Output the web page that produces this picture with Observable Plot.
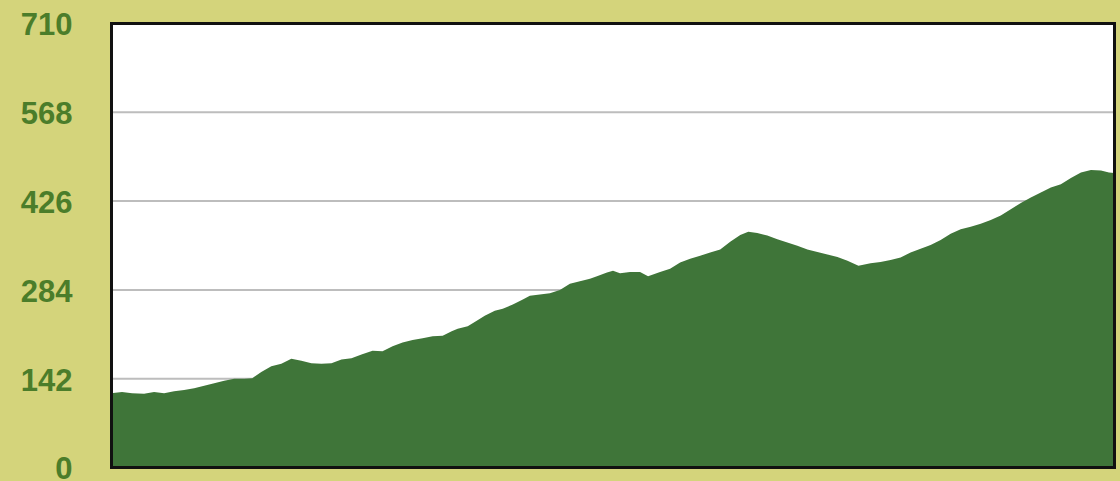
<!DOCTYPE html>
<html>
<head>
<meta charset="utf-8">
<script src="https://cdn.jsdelivr.net/npm/d3@7"></script>
<script src="https://cdn.jsdelivr.net/npm/@observablehq/plot@0.6"></script>
<style>
  html, body { margin: 0; padding: 0; background: #d4d47b; overflow: hidden; }
  #chart svg { display: block; }
</style>
</head>
<body>
<div id="chart"></div>
<script>
const distance = [0, 1.1, 2.1, 3.3, 4.3, 5.3, 6.3, 7.3, 8.3, 9.3, 10.3, 11.3, 12.3, 13.3, 14.1, 15.0, 16.0, 17.0, 18.0, 19.0, 20.0, 21.0, 22.0, 23.0, 24.0, 25.0, 26.1, 27.1, 28.1, 29.1, 30.1, 31.1, 32.1, 33.1, 34.0, 34.6, 35.6, 36.5, 37.3, 38.3, 39.1, 40.1, 41.1, 41.8, 42.8, 43.8, 44.8, 45.8, 46.8, 47.8, 48.5, 49.5, 50.1, 50.8, 51.8, 52.8, 53.6, 54.8, 55.8, 56.8, 57.8, 58.8, 59.8, 60.8, 61.8, 62.8, 63.6, 64.5, 65.5, 66.5, 67.5, 68.5, 69.5, 70.5, 71.5, 72.5, 73.5, 74.6, 75.8, 76.8, 77.8, 78.8, 79.8, 80.8, 81.8, 82.8, 83.8, 84.8, 85.8, 86.8, 87.8, 88.8, 89.8, 90.8, 91.8, 92.8, 93.8, 94.8, 95.8, 96.8, 97.8, 98.8, 99.6, 100.1];
const elevation = [118, 120, 118, 117, 120, 118, 121, 123, 126, 130, 134, 138, 141, 141, 142, 152, 161, 165, 173, 170, 166, 165, 166, 172, 174, 180, 186, 185, 193, 199, 203, 206, 209, 210, 217, 221, 225, 234, 242, 250, 253, 260, 268, 274, 276, 278, 283, 293, 297, 301, 305, 311, 314, 310, 312, 312, 305, 312, 317, 327, 333, 338, 343, 348, 360, 371, 376, 374, 370, 364, 359, 354, 348, 344, 340, 336, 330, 322, 326, 328, 331, 335, 343, 349, 355, 363, 373, 380, 384, 389, 395, 402, 412, 422, 431, 439, 447, 452, 462, 471, 475, 474, 471, 470];
const yTicks = [0, 142, 284, 426, 568, 710];
const gridTicks = [142, 284, 426, 568];

const data = distance.map((d, i) => ({distance: d, elevation: elevation[i]}));

const chart = Plot.plot({
  width: 1120,
  height: 481,
  marginLeft: 111,
  marginRight: 6,
  marginTop: 23,
  marginBottom: 14,
  style: {background: "transparent", overflow: "visible"},
  x: {domain: [0, 100.1], axis: null},
  y: {domain: [0, 710]},
  marks: [
    Plot.frame({fill: "white", stroke: null}),
    Plot.ruleY(gridTicks, {stroke: "#bdbdbd", strokeWidth: 2}),
    Plot.areaY(data, {x: "distance", y: "elevation", fill: "#3f7539", curve: "linear"}),
    Plot.frame({stroke: "#111", strokeWidth: 3}),
    Plot.axisY(yTicks, {
      tickSize: 0,
      tickPadding: 39,
      fontSize: 31,
      fontWeight: "bold",
      fontFamily: "Liberation Sans, Arial, sans-serif",
      fill: "#4b7d2a",
      dy: 2,
      label: null
    })
  ]
});
document.getElementById("chart").appendChild(chart);
</script>
</body>
</html>
